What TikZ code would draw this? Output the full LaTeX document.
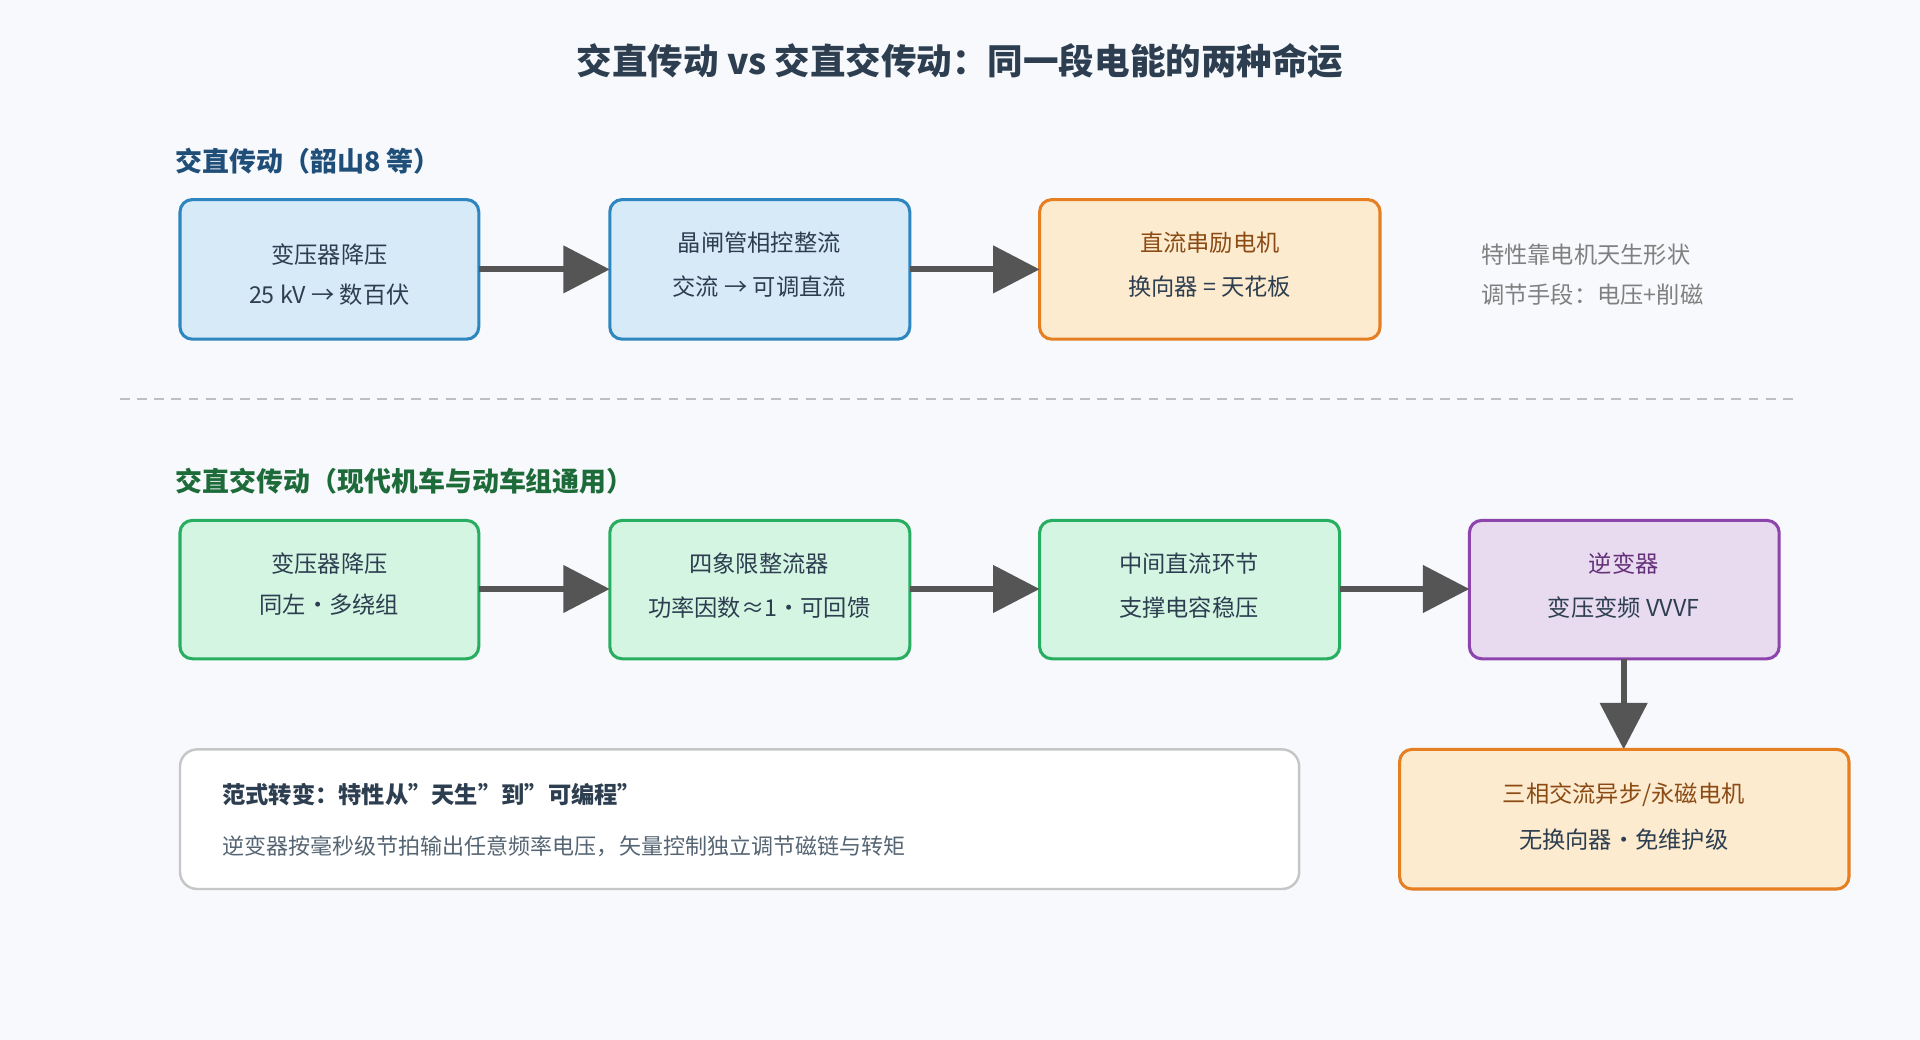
\documentclass[tikz,border=0pt]{standalone}
\usepackage{fontspec}
\setmainfont{Noto Sans CJK SC}
\usetikzlibrary{arrows.meta}
\definecolor{bg}{HTML}{F7F9FC}
\definecolor{tt}{HTML}{2C3E50}
\definecolor{bfill}{HTML}{D6EAF8}\definecolor{bdraw}{HTML}{2E86C1}
\definecolor{ofill}{HTML}{FDEBD0}\definecolor{odraw}{HTML}{E67E22}
\definecolor{gfill}{HTML}{D5F5E3}\definecolor{gdraw}{HTML}{27AE60}
\definecolor{pfill}{HTML}{E8DAEF}\definecolor{pdraw}{HTML}{8E44AD}
\definecolor{sec1}{HTML}{1F4E79}\definecolor{sec2}{HTML}{1E6B3A}
\definecolor{arr}{HTML}{555555}
\begin{document}
\begin{tikzpicture}[x=1pt,y=-1pt,
 box/.style={rounded corners=10pt,line width=2.5pt},
 txt/.style={font=\fontsize{19}{22}\selectfont,text=tt},
 con/.style={line width=5pt,draw=arr,-{Triangle[length=38pt,width=38pt]}},
 sec/.style={anchor=west,font=\fontsize{22}{26}\selectfont\bfseries}]
\fill[bg] (0,0) rectangle (1568,849);
\useasboundingbox (0,0) rectangle (1568,849);
\node[font=\fontsize{29}{34}\selectfont\bfseries,text=tt] (title) at (784,50) {交直传动 vs 交直交传动：同一段电能的两种命运};
\node[sec,text=sec1] (s1) at (140,132) {交直传动（韶山8 等）};
% row 1
\draw[box,fill=bfill,draw=bdraw] (147,163) rectangle (391,277);
\coordinate (a1) at (391,220);
\node[txt] at (269,208) {变压器降压};
\node[txt] at (269,241) {25 kV → 数百伏};
\draw[box,fill=bfill,draw=bdraw] (498,163) rectangle (743,277);
\coordinate (a2l) at (498,220);\coordinate (a2r) at (743,220);
\node[txt] at (620,198) {晶闸管相控整流};
\node[txt] at (620,234) {交流 → 可调直流};
\draw[box,fill=ofill,draw=odraw] (849,163) rectangle (1127,277);
\coordinate (a3l) at (849,220);
\node[txt,text=odraw!60!black] at (988,198) {直流串励电机};
\node[txt] at (988,234) {换向器 = 天花板};
\draw[con] (a1) -- (a2l);
\draw[con] (a2r) -- (a3l);
\node[txt,text=gray,anchor=west] (n1) at (1206,208) {特性靠电机天生形状};
\node[txt,text=gray,anchor=west] (n2) at (1206,241) {调节手段：电压+削磁};
\coordinate (d1) at (98,326);\coordinate (d2) at (1465,326);
\draw[gray!50,line width=2pt,dash pattern=on 8pt off 6pt] (d1) -- (d2);
\node[sec,text=sec2] (s2) at (140,393) {交直交传动（现代机车与动车组通用）};
% row 2
\draw[box,fill=gfill,draw=gdraw] (147,425) rectangle (391,538);
\node[txt] at (269,460) {变压器降压};
\node[txt] at (269,494) {同左·多绕组};
\draw[box,fill=gfill,draw=gdraw] (498,425) rectangle (743,538);
\node[txt] at (620,460) {四象限整流器};
\node[txt] at (620,496) {功率因数≈1·可回馈};
\draw[box,fill=gfill,draw=gdraw] (849,425) rectangle (1094,538);
\node[txt] at (971,460) {中间直流环节};
\node[txt] at (971,496) {支撑电容稳压};
\draw[box,fill=pfill,draw=pdraw] (1200,425) rectangle (1453,538);
\node[txt,text=pdraw!70!black] at (1326,460) {逆变器};
\node[txt] at (1326,496) {变压变频 VVVF};
\coordinate (b1) at (391,481);\coordinate (b2l) at (498,481);\coordinate (b2r) at (743,481);
\coordinate (b3l) at (849,481);\coordinate (b3r) at (1094,481);\coordinate (b4l) at (1200,481);
\coordinate (b4b) at (1326,538);\coordinate (m1t) at (1326,612);
\draw[con] (b1) -- (b2l);
\draw[con] (b2r) -- (b3l);
\draw[con] (b3r) -- (b4l);
\draw[con] (b4b) -- (m1t);
\draw[box,fill=ofill,draw=odraw] (1143,612) rectangle (1510,726);
\node[txt,text=odraw!60!black] at (1326,649) {三相交流异步/永磁电机};
\node[txt] at (1326,686) {无换向器·免维护级};
\draw[rounded corners=14pt,line width=2pt,fill=white,draw=gray!45] (147,612) rectangle (1061,726);
\node[anchor=west,font=\fontsize{19}{22}\selectfont\bfseries,text=tt] (p1) at (178,649) {范式转变：特性从"天生"到"可编程"};
\node[anchor=west,font=\fontsize{18}{22}\selectfont,text=tt!80] (p2) at (178,691) {逆变器按毫秒级节拍输出任意频率电压，矢量控制独立调节磁链与转矩};
\end{tikzpicture}
\end{document}
